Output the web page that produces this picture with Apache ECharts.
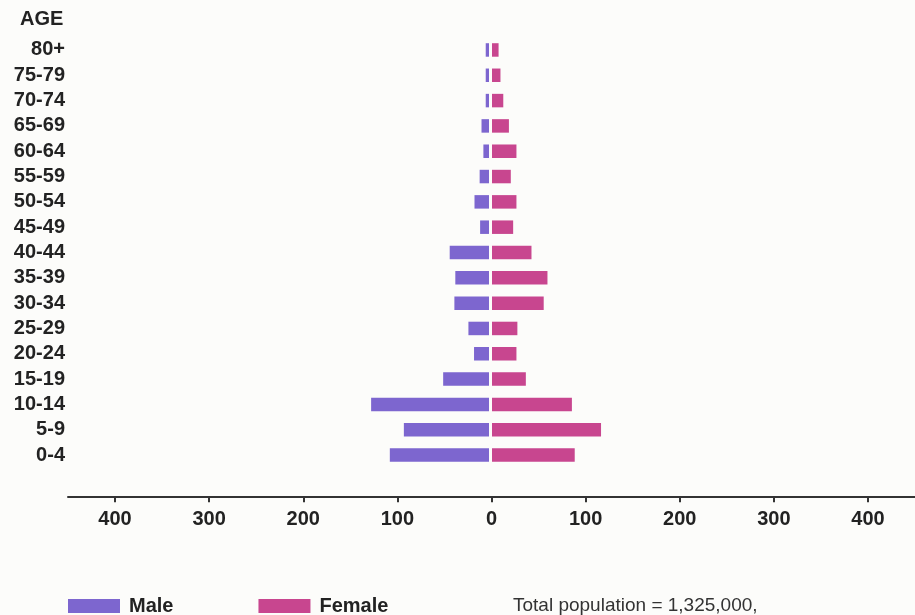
<!DOCTYPE html>
<html>
<head>
<meta charset="utf-8">
<script src="https://cdn.jsdelivr.net/npm/echarts@6/dist/echarts.min.js"></script>
<style>
html,body{margin:0;padding:0;background:#fcfcfa;}
#c{width:915px;height:615px;}
</style>
</head>
<body>
<div id="c"></div>
<script>
var ageGroups = ['80+','75-79','70-74','65-69','60-64','55-59','50-54','45-49','40-44','35-39','30-34','25-29','20-24','15-19','10-14','5-9','0-4'];
var male =   [3.5, 3.5, 3.5, 8, 6, 10, 15.5, 9.5, 42, 36, 37, 22, 16, 49, 126, 91, 106];
var female = [7, 9, 12, 18, 26, 20, 26, 22.5, 42, 59, 55, 27, 26, 36, 85, 116, 88];
var tickValues = [-400, -300, -200, -100, 0, 100, 200, 300, 400];
var totalText = 'Total population = 1,325,000,';

var chart = echarts.init(document.getElementById('c'), null, {renderer: 'canvas'});
var FONT = '"Liberation Sans", Arial, Helvetica, sans-serif';
var maleColor = '#7d66cf';
var femaleColor = '#c8468f';
var gTop = 37.3, gH = 430.4;

chart.setOption({
  backgroundColor: '#fcfcfa',
  animation: false,
  title: [
    {text: 'AGE', left: 20, top: 9, padding: 0, textStyle: {fontFamily: FONT, fontSize: 20, fontWeight: 'bold', color: '#222'}},
    {text: totalText, left: 513, top: 596, padding: 0, textStyle: {fontFamily: FONT, fontSize: 19, fontWeight: 'normal', color: '#333'}}
  ],
  legend: {
    left: 68, top: 596, padding: 0, itemWidth: 52, itemHeight: 14, itemGap: 85,
    icon: 'rect',
    data: ['Male', 'Female'],
    textStyle: {fontFamily: FONT, fontSize: 20, fontWeight: 'bold', color: '#222', padding: [0, 0, 6, 4]}
  },
  grid: [
    {left: 68, width: 421, top: gTop, height: gH},
    {left: 492, width: 423, top: gTop, height: gH},
    {left: 68, width: 847, top: gTop, height: 459}
  ],
  xAxis: [
    {gridIndex: 0, type: 'value', min: 0, max: 450, inverse: true, show: false},
    {gridIndex: 1, type: 'value', min: 0, max: 450, show: false},
    {gridIndex: 2, type: 'value', min: -450, max: 450,
     axisLine: {show: true, lineStyle: {color: '#333', width: 2}},
     axisTick: {show: true, length: 6, customValues: tickValues, lineStyle: {color: '#333', width: 2}},
     axisLabel: {customValues: tickValues, margin: 13, fontFamily: FONT, fontSize: 20, fontWeight: 'bold', color: '#222',
                 formatter: function(v){ return String(Math.abs(v)); }},
     splitLine: {show: false}}
  ],
  yAxis: [
    {gridIndex: 0, type: 'category', inverse: true, data: ageGroups,
     axisLine: {show: false}, axisTick: {show: false},
     axisLabel: {interval: 0, margin: 3, fontFamily: FONT, fontSize: 20, fontWeight: 'bold', color: '#222'}},
    {gridIndex: 1, type: 'category', inverse: true, data: ageGroups, show: false},
    {gridIndex: 2, type: 'category', data: ['a'], show: false}
  ],
  series: [
    {name: 'Male', type: 'bar', xAxisIndex: 0, yAxisIndex: 0, data: male, barWidth: 13.5, itemStyle: {color: maleColor}},
    {name: 'Female', type: 'bar', xAxisIndex: 1, yAxisIndex: 1, data: female, barWidth: 13.5, itemStyle: {color: femaleColor}}
  ]
});
</script>
</body>
</html>
